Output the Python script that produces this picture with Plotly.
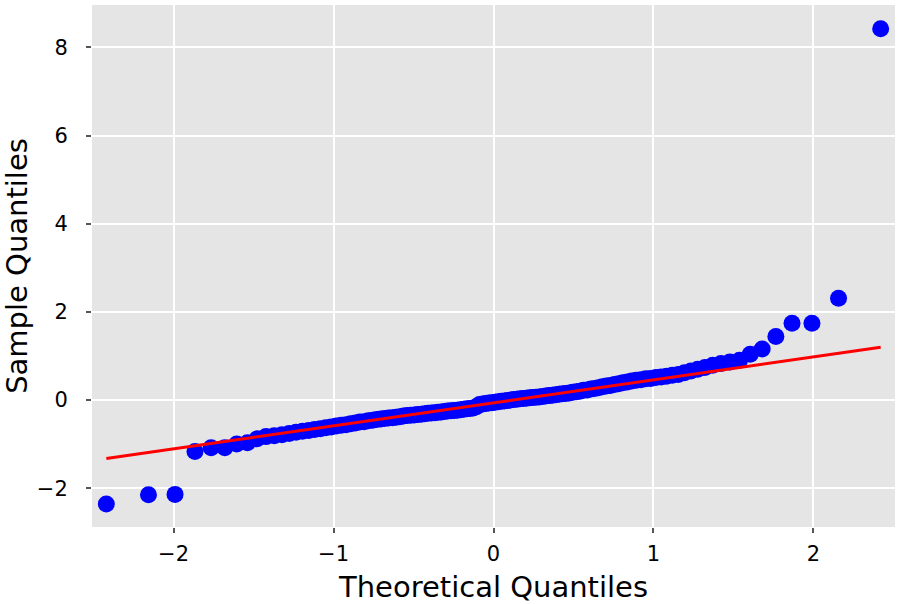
from statistics import NormalDist
import plotly.graph_objects as go

# Sorted sample values (n = 128)
sample_quantiles = [
    -2.36, -2.15, -2.14, -1.17, -1.08, -1.08, -1.00, -0.97, -0.88, -0.83,
    -0.81, -0.79, -0.76, -0.73, -0.71, -0.69, -0.67, -0.65, -0.63, -0.61,
    -0.59, -0.57, -0.56, -0.54, -0.52, -0.50, -0.49, -0.47, -0.46, -0.44,
    -0.43, -0.42, -0.41, -0.40, -0.39, -0.38, -0.36, -0.35, -0.345, -0.34,
    -0.33, -0.32, -0.31, -0.30, -0.295, -0.29, -0.28, -0.27, -0.26, -0.25,
    -0.245, -0.24, -0.23, -0.22, -0.21, -0.20, -0.19, -0.18, -0.15, -0.10,
    -0.09, -0.08, -0.07, -0.06, -0.05, -0.04, -0.03, -0.02, -0.01, 0.00,
    0.01, 0.02, 0.03, 0.035, 0.04, 0.05, 0.06, 0.065, 0.07, 0.08,
    0.09, 0.10, 0.11, 0.12, 0.13, 0.14, 0.15, 0.16, 0.175, 0.19,
    0.20, 0.22, 0.23, 0.25, 0.26, 0.28, 0.30, 0.32, 0.33, 0.35,
    0.37, 0.39, 0.41, 0.43, 0.45, 0.46, 0.48, 0.49, 0.51, 0.52,
    0.54, 0.56, 0.58, 0.62, 0.66, 0.70, 0.74, 0.79, 0.83, 0.86,
    0.90, 1.04, 1.16, 1.44, 1.74, 1.74, 2.31, 8.42,
]

# reference line
fit_slope = 0.522
fit_intercept = -0.065

x_ticks = [-2, -1, 0, 1, 2]
x_tick_labels = ["\u22122", "\u22121", "0", "1", "2"]
y_ticks = [-2, 0, 2, 4, 6, 8]
y_tick_labels = ["\u22122", "0", "2", "4", "6", "8"]

# theoretical quantiles: plotting positions i/(n+1) under a standard normal
n = len(sample_quantiles)
theoretical = [NormalDist().inv_cdf(i / (n + 1)) for i in range(1, n + 1)]

line_x = [theoretical[0], theoretical[-1]]
line_y = [fit_intercept + fit_slope * v for v in line_x]

fig = go.Figure()
fig.add_trace(go.Scatter(
    x=theoretical, y=sample_quantiles, mode="markers",
    marker=dict(color="#0000FF", size=17, line=dict(width=0)),
    showlegend=False,
))
fig.add_trace(go.Scatter(
    x=line_x, y=line_y, mode="lines",
    line=dict(color="#FF0000", width=3),
    showlegend=False,
))

axis_style = dict(
    showgrid=True, gridcolor="white", gridwidth=2,
    zeroline=False, showline=False, automargin=False,
    ticks="outside", ticklen=5, tickwidth=1.5, tickcolor="#555555",
    tickfont=dict(size=21, color="black"),
)

fig.update_xaxes(
    range=[-2.51, 2.51], tickvals=x_ticks, ticktext=x_tick_labels,
    ticklabelstandoff=3,
    title=dict(text="Theoretical Quantiles", font=dict(size=29, color="black"), standoff=11),
    **axis_style,
)
fig.update_yaxes(
    range=[-2.88, 8.96], tickvals=y_ticks, ticktext=y_tick_labels,
    ticklabelstandoff=14,
    title=dict(text="Sample Quantiles", font=dict(size=29, color="black"), standoff=6),
    **axis_style,
)

fig.update_layout(
    width=904, height=604,
    margin=dict(l=92, r=9, t=5, b=77),
    plot_bgcolor="#E5E5E5", paper_bgcolor="white",
    font=dict(family="DejaVu Sans", color="black"),
)

fig.write_html(
    "out.html",
    config={"displayModeBar": False},
    post_script="document.body.style.margin='0';",
)
